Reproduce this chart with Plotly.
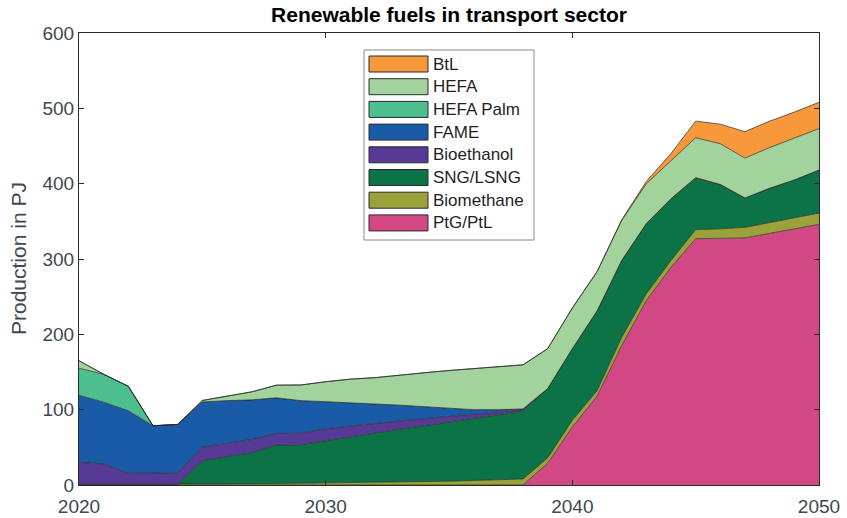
import plotly.graph_objects as go

# Years covered by the scenario
years = list(range(2020, 2051))

# Production per fuel in PJ (stack order bottom -> top)
ptg_ptl = [0, 0, 0, 0, 0, 0, 0, 0, 0, 0, 0, 0, 0, 0, 0, 0, 0, 0, 0,
           29, 77, 118, 185, 245, 289, 327, 327, 328, 334, 340, 346]
biomethane = [1, 1, 1, 1, 1, 1.2, 1.5, 1.8, 2, 2.3, 2.6, 3, 3.5, 4, 4.5, 5, 6, 7, 8,
              7, 9, 7, 11, 9, 9, 12, 13, 14, 14, 14, 15]
sng_lsng = [0, 0, 0, 0, 0, 31, 36, 41, 51, 51, 56, 61, 65, 70, 74, 78.5, 82, 86, 90,
            92, 95, 106, 102, 93, 82, 69, 59, 39, 46, 51, 57]
bioethanol = [29, 27, 14.5, 15.3, 15.3, 18, 17.5, 17.7, 15.4, 15.4, 16, 14.5, 13, 11, 9.5, 7.5, 6, 4, 2,
              0, 0, 0, 0, 0, 0, 0, 0, 0, 0, 0, 0]
fame = [89, 82, 83, 62.3, 64.1, 60, 57, 52.5, 47.3, 43.3, 36, 31, 26, 21, 16, 11, 6, 3, 1,
        0, 0, 0, 0, 0, 0, 0, 0, 0, 0, 0, 0]
hefa_palm = [36, 37, 32.5, 0, 0, 0, 0, 0, 0, 0, 0, 0, 0, 0, 0, 0, 0, 0, 0,
             0, 0, 0, 0, 0, 0, 0, 0, 0, 0, 0, 0]
hefa = [10, 0, 0, 0, 0, 2, 6, 10.6, 16.8, 20.8, 26.5, 31, 35, 40, 45, 50, 54.6, 57, 58.5,
        53, 54, 52, 53, 53, 50, 53, 54, 53, 54, 55, 55]
btl = [0, 0, 0, 0, 0, 0, 0, 0, 0, 0, 0, 0, 0, 0, 0, 0, 0, 0, 0,
       0, 0, 0, 1, 3, 10, 22, 26, 35, 35, 35, 35]

series_names = ["PtG/PtL", "Biomethane", "SNG/LSNG", "Bioethanol",
                "FAME", "HEFA Palm", "HEFA", "BtL"]
series_values = [ptg_ptl, biomethane, sng_lsng, bioethanol,
                 fame, hefa_palm, hefa, btl]
series_colors = ["#D14885", "#9BA23A", "#0B7346", "#573A96",
                 "#1A5BA8", "#4DBF8F", "#A2D39C", "#F7983A"]

x_ticks = [2020, 2030, 2040, 2050]
y_ticks = [0, 100, 200, 300, 400, 500, 600]

FONT = "Liberation Sans, Arial, sans-serif"
TICK_COLOR = "#3e4852"

fig = go.Figure()
for name, vals, col in zip(series_names, series_values, series_colors):
    fig.add_trace(go.Scatter(
        x=years, y=vals, name=name, mode="lines",
        stackgroup="fuels", fillcolor=col,
        line=dict(color="#2a2a2a", width=0.7),
        showlegend=False, hoverinfo="x+y+name",
    ))

# Pixel layout of the figure and its plot area
W, H = 847, 518
L, R, T, B = 79, 28, 33, 33
pw, ph = W - L - R, H - T - B


def px(xp):
    return (xp - L) / pw


def py(yp):
    return (H - B - yp) / ph


# Legend box drawn in paper coordinates (top entry = top of stack)
box_l, box_r, box_t, box_b = 364, 534, 50, 240
fig.add_shape(type="rect", xref="paper", yref="paper",
              x0=px(box_l), x1=px(box_r), y0=py(box_b), y1=py(box_t),
              fillcolor="white", line=dict(color="#8a8a8a", width=1))
first_c, step = 64, 22.7
for i, (name, col) in enumerate(zip(series_names[::-1], series_colors[::-1])):
    yc = first_c + step * i
    fig.add_shape(type="rect", xref="paper", yref="paper",
                  x0=px(369), x1=px(428), y0=py(yc + 8), y1=py(yc - 8),
                  fillcolor=col, line=dict(color="#2a2a2a", width=1))
    fig.add_annotation(xref="paper", yref="paper", x=px(431), y=py(yc),
                       text=name, showarrow=False, xanchor="left", yanchor="middle",
                       font=dict(family=FONT, size=17, color="#1f1f1f"))

# Y axis label
fig.add_annotation(xref="paper", yref="paper", x=px(18), y=py(T + ph / 2),
                   text="Production in PJ", textangle=-90, showarrow=False,
                   xanchor="center", yanchor="middle",
                   font=dict(family=FONT, size=21, color=TICK_COLOR))

fig.update_layout(
    width=W, height=H,
    margin=dict(l=L, r=R, t=T, b=B),
    paper_bgcolor="white", plot_bgcolor="white",
    title=dict(text="<b>Renewable fuels in transport sector</b>",
               x=(L + pw / 2) / W, xanchor="center", y=1 - 15 / H, yanchor="middle",
               font=dict(family=FONT, size=21, color="#000000")),
    font=dict(family=FONT),
)
fig.update_xaxes(
    range=[2020, 2050], tickvals=x_ticks, ticktext=[str(v) for v in x_ticks],
    ticks="inside", ticklen=5, tickcolor="#2b2b2b", showline=True, linecolor="#2b2b2b",
    linewidth=1, mirror="ticks", showgrid=False, zeroline=False,
    ticklabelstandoff=4, automargin=False,
    tickfont=dict(family=FONT, size=19, color=TICK_COLOR),
)
fig.update_yaxes(
    range=[0, 600], tickvals=y_ticks, ticks="inside", ticklen=5, tickcolor="#2b2b2b",
    showline=True, linecolor="#2b2b2b", linewidth=1, mirror="ticks",
    showgrid=False, zeroline=False, automargin=False,
    tickfont=dict(family=FONT, size=19, color=TICK_COLOR),
)

fig.write_html("out.html")
